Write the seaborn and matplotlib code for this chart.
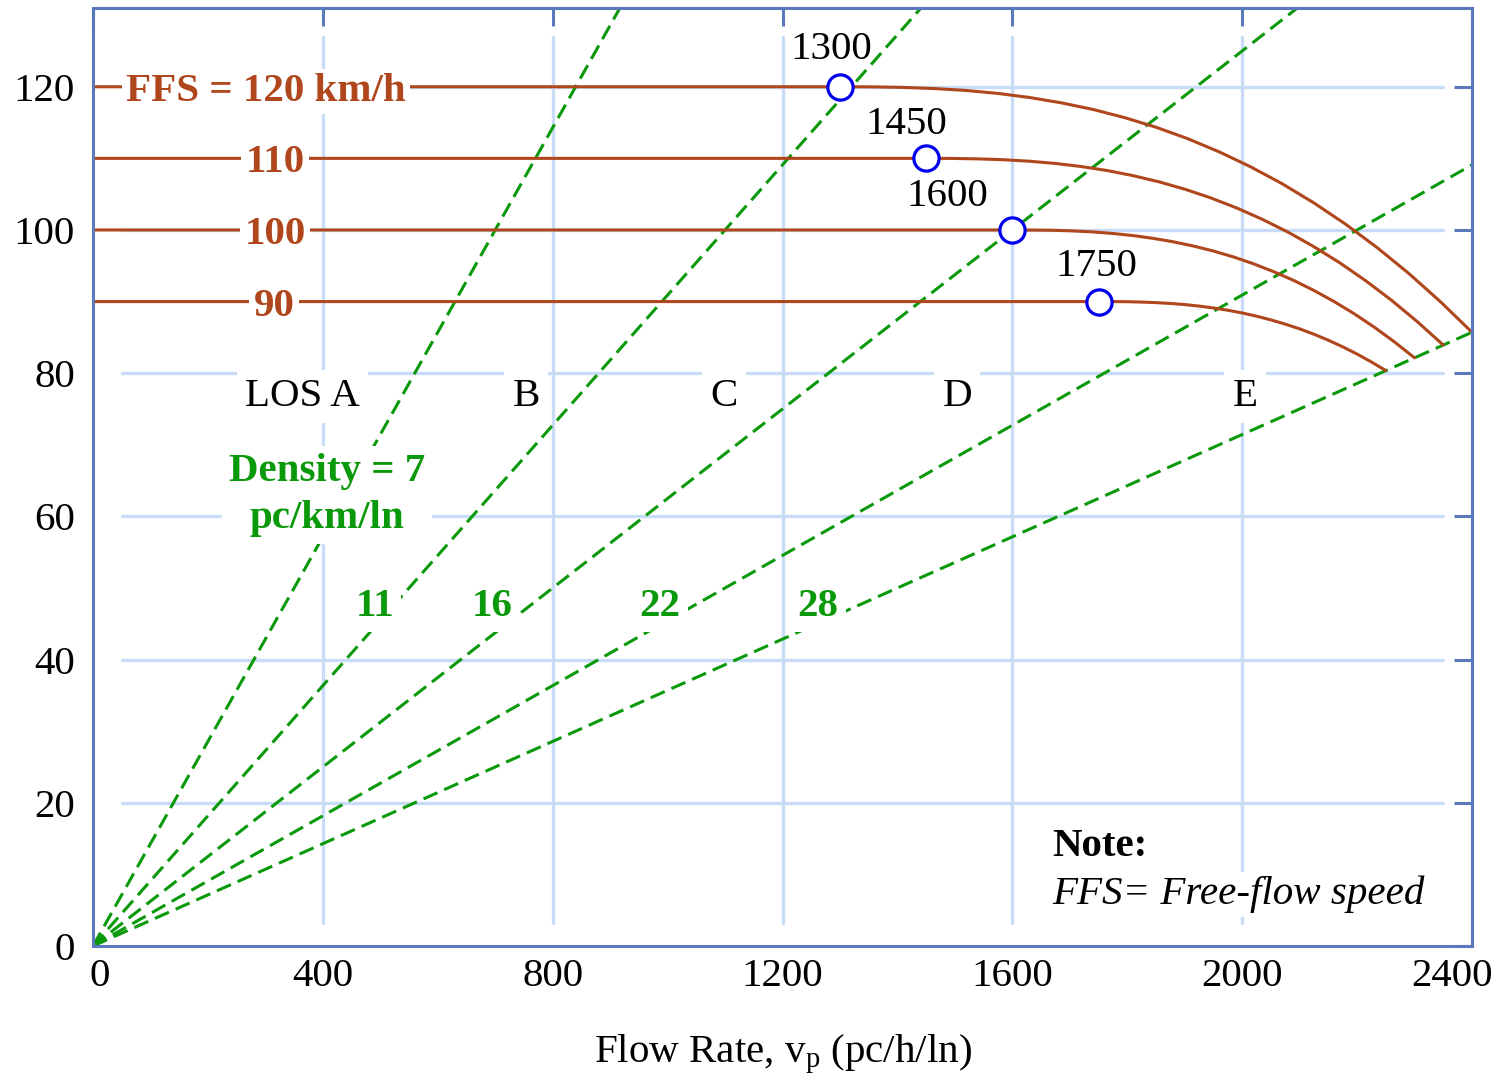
import numpy as np
import pandas as pd
import matplotlib
matplotlib.use("Agg")
import matplotlib.pyplot as plt
from matplotlib.transforms import ScaledTranslation
import seaborn as sns

# speed-flow curves per free-flow speed (flow pc/h/ln, speed km/h)
FFS_LEVELS = [120, 110, 100, 90]
FLOW_120 = [0, 1300, 1355, 1410, 1465, 1520, 1575, 1630, 1685, 1740, 1795, 1850,
            1905, 1960, 2015, 2070, 2125, 2180, 2235, 2290, 2345, 2400]
SPEED_120 = [120, 120, 119.99, 119.91, 119.75, 119.48, 119.07, 118.50, 117.76, 116.84,
             115.70, 114.35, 112.76, 110.91, 108.81, 106.44, 103.77, 100.81, 97.53,
             93.93, 89.99, 85.71]
FLOW_110 = [0, 1450, 1495, 1540, 1585, 1630, 1675, 1720, 1765, 1810, 1855, 1900,
            1945, 1990, 2035, 2080, 2125, 2170, 2215, 2260, 2305, 2350]
SPEED_110 = [110, 110, 109.99, 109.93, 109.81, 109.60, 109.29, 108.86, 108.30, 107.59,
             106.73, 105.70, 104.49, 103.09, 101.49, 99.69, 97.66, 95.41, 92.91,
             90.18, 87.18, 83.93]
FLOW_100 = [0, 1600, 1635, 1670, 1705, 1740, 1775, 1810, 1845, 1880, 1915, 1950,
            1985, 2020, 2055, 2090, 2125, 2160, 2195, 2230, 2265, 2300]
SPEED_100 = [100, 100, 99.99, 99.96, 99.87, 99.73, 99.51, 99.22, 98.83, 98.35,
             97.76, 97.06, 96.23, 95.27, 94.17, 92.94, 91.55, 90.00, 88.30,
             86.42, 84.37, 82.14]
FLOW_90 = [0, 1750, 1775, 1800, 1825, 1850, 1875, 1900, 1925, 1950, 1975, 2000,
           2025, 2050, 2075, 2100, 2125, 2150, 2175, 2200, 2225, 2250]
SPEED_90 = [90, 90, 90.00, 89.98, 89.93, 89.85, 89.74, 89.58, 89.37, 89.11,
            88.79, 88.41, 87.96, 87.44, 86.85, 86.19, 85.44, 84.60, 83.68,
            82.67, 81.56, 80.36]

# breakpoints (open circles)
BP_FLOW = [1300, 1450, 1600, 1750]
BP_SPEED = [120, 110, 100, 90]
BP_LABELS = ["1300", "1450", "1600", "1750"]

# density lines, pc/km/ln
DENSITIES = [7, 11, 16, 22, 28]
DENSITY_LABELS = ["Density = 7\npc/km/ln", "11", "16", "22", "28"]
FFS_LABELS = ["FFS = 120 km/h", "110", "100", "90"]
LOS_LABELS = ["LOS A", "B", "C", "D", "E"]

X_TICKS = [0, 400, 800, 1200, 1600, 2000, 2400]
Y_TICKS = [0, 20, 40, 60, 80, 100, 120]

BROWN = "#b0461c"
GREEN = "#0a990a"
BLUE_AX = "#5a78bc"
GRID = "#c9dcf7"
FS = 29.5

curves = pd.concat([
    pd.DataFrame({"flow": f, "speed": s, "ffs": k})
    for k, f, s in zip(FFS_LEVELS, [FLOW_120, FLOW_110, FLOW_100, FLOW_90],
                       [SPEED_120, SPEED_110, SPEED_100, SPEED_90])
])
points = pd.DataFrame({"flow": BP_FLOW, "speed": BP_SPEED})

sns.set_theme(style="white")
plt.rcParams["font.family"] = ["Liberation Serif", "DejaVu Serif"]
plt.rcParams["text.color"] = "black"
plt.rcParams["axes.labelcolor"] = "black"
plt.rcParams["mathtext.fontset"] = "custom"
plt.rcParams["mathtext.rm"] = "Liberation Serif"
plt.rcParams["mathtext.it"] = "Liberation Serif:italic"

fig = plt.figure(figsize=(15.04, 10.78), dpi=100)
ax = fig.add_axes([93 / 1504, 1 - 946 / 1078, 1379 / 1504, 938 / 1078])

# grid lines that stop short of the frame
for y in Y_TICKS[1:]:
    ax.axhline(y, xmin=0.021, xmax=0.979, color=GRID, lw=2.4, zorder=0.5)
for x in X_TICKS[1:-1]:
    ax.axvline(x, ymin=0.024, ymax=0.969, color=GRID, lw=2.4, zorder=0.5)

for d in DENSITIES:
    ax.axline((0, 0), slope=1 / d, color=GREEN, lw=2.2, ls=(0, (5, 2.4)), zorder=2)

sns.lineplot(data=curves, x="flow", y="speed", units="ffs", estimator=None,
             color=BROWN, lw=2.2, ax=ax, zorder=3, legend=False,
             solid_joinstyle="round", solid_capstyle="round")
sns.scatterplot(data=points, x="flow", y="speed", s=330, facecolor="white",
                edgecolor="#0000ee", linewidth=2.3, ax=ax, zorder=4)

box = dict(facecolor="white", edgecolor="none", pad=3)

ffs_x = [301, 317, 317, 315]
for lab, x, y in zip(FFS_LABELS, ffs_x, FFS_LEVELS):
    ax.text(x, y, lab, color=BROWN, fontsize=FS, fontweight="bold", ha="center",
            va="center_baseline", bbox=box, zorder=5)

dens_pos = [(407, 63.0), (491, 48), (694, 48), (987, 48), (1262, 48)]
for lab, (x, y) in zip(DENSITY_LABELS, dens_pos):
    ax.text(x, y, lab, color=GREEN, fontsize=FS, fontweight="bold", ha="center",
            va="center" if "\n" in lab else "center_baseline", linespacing=1.35,
            bbox=dict(facecolor="white", edgecolor="none", pad=5), zorder=5)

los_x = [365, 754, 1098, 1504, 2005]
for lab, x in zip(LOS_LABELS, los_x):
    ax.text(x, 77.4, lab, color="black", fontsize=FS, ha="center",
            va="center_baseline", bbox=dict(facecolor="white", edgecolor="none", pad=6), zorder=5)

bp_pos = [(1284, 125.8), (1415, 115.4), (1486, 105.3), (1747, 95.5)]
for lab, (x, y) in zip(BP_LABELS, bp_pos):
    ax.text(x, y, lab, color="black", fontsize=FS, ha="center", va="center_baseline", zorder=5)

ax.text(1669, 14.5, "Note:", color="black", fontsize=FS, fontweight="bold", ha="left",
        va="center_baseline", bbox=box, zorder=5)
ax.text(1669, 7.8, "FFS= Free-flow speed", color="black", fontsize=FS, style="italic",
        ha="left", va="center_baseline", bbox=box, zorder=5)

ax.set_xlim(0, 2400)
ax.set_ylim(0, 131)
ax.set_xticks(X_TICKS)
ax.set_yticks(Y_TICKS)
ax.tick_params(direction="in", length=13, width=2.2, color=BLUE_AX, labelsize=FS,
               labelcolor="black", top=True, right=True)
ax.tick_params(axis="x", pad=9)
ax.tick_params(axis="y", pad=13)
for sp in ax.spines.values():
    sp.set_color(BLUE_AX)
    sp.set_linewidth(2.2)
    sp.set_zorder(6)

# nudge the end labels inward like the original
xl = ax.get_xticklabels()
xl[0].set_transform(xl[0].get_transform() + ScaledTranslation(0.07, 0, fig.dpi_scale_trans))
xl[-1].set_transform(xl[-1].get_transform() + ScaledTranslation(-0.20, 0, fig.dpi_scale_trans))

ax.set_xlabel(r"Flow Rate, v$_\mathrm{p}$ (pc/h/ln)", fontsize=FS, labelpad=27)
ax.set_ylabel("")

fig.savefig("out.png", dpi=100)
